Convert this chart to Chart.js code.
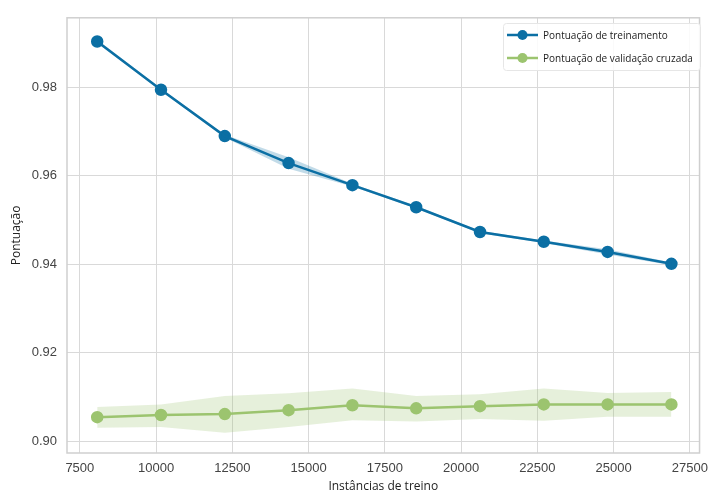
<!DOCTYPE html>
<html>
<head>
<meta charset="utf-8">
<script src="https://cdn.jsdelivr.net/npm/chart.js@4"></script>
<style>
  html, body { margin: 0; padding: 0; background: #fff; }
  #wrap { width: 716px; height: 494px; }
</style>
</head>
<body>
<div id="wrap"><canvas id="chart1"></canvas></div>
<script>
// data
var trainSizes = [8069, 10161, 12253, 14345, 16437, 18529, 20621, 22713, 24805, 26897];
var trainScore = [0.9904, 0.9795, 0.9690, 0.9629, 0.9579, 0.9529, 0.9473, 0.9451, 0.9428, 0.9401];
var trainStd   = [0.0004, 0.0003, 0.0003, 0.0013, 0.0003, 0.0003, 0.0003, 0.0003, 0.0006, 0.0003];
var validUpper = [0.9077, 0.9083, 0.9102, 0.9108, 0.9119, 0.9102, 0.9106, 0.9119, 0.9109, 0.9111];
var validScore = [0.9054, 0.9059, 0.9061, 0.9070, 0.9081, 0.9074, 0.9079, 0.9083, 0.9083, 0.9083];
var validLower = [0.9030, 0.9032, 0.9019, 0.9032, 0.9047, 0.9044, 0.9050, 0.9046, 0.9055, 0.9055];
var xTicks = [7500, 10000, 12500, 15000, 17500, 20000, 22500, 25000, 27500];
var yTicks = [0.90, 0.92, 0.94, 0.96, 0.98];

var blue = '#0b6fa4';
var green = '#9cc46f';

function pts(ys) {
  return trainSizes.map(function (x, i) { return { x: x, y: ys[i] }; });
}

// border around plot + legend box
var frame = {
  id: 'frame',
  afterDatasetsDraw: function (chart) {
    var c = chart.ctx, a = chart.chartArea;
    c.save();
    c.strokeStyle = '#cfcfcf';
    c.lineWidth = 1.5;
    c.strokeRect(a.left, a.top, a.right - a.left, a.bottom - a.top);

    // legend
    var bx = 503, by = 23, bw = 197, bh = 47;
    c.fillStyle = 'rgba(255,255,255,0.85)';
    c.strokeStyle = '#e6e6e6';
    c.lineWidth = 1;
    c.beginPath();
    c.roundRect(bx + 0.5, by + 0.5, bw, bh, 3);
    c.fill();
    c.stroke();
    var items = chart.data.datasets.filter(function (d) { return d.showInLegend; });
    items.forEach(function (d, i) {
      var y = by + 12 + i * 23;
      c.strokeStyle = d.borderColor;
      c.lineWidth = 2.5;
      c.beginPath();
      c.moveTo(bx + 4, y);
      c.lineTo(bx + 35, y);
      c.stroke();
      c.fillStyle = d.borderColor;
      c.beginPath();
      c.arc(bx + 19.5, y, 5, 0, Math.PI * 2);
      c.fill();
      c.fillStyle = '#222';
      c.font = '10px "Open Sans"';
      c.textBaseline = 'middle';
      c.fillText(d.label, bx + 40, y + 1);
    });
    c.restore();
  }
};

var graph = document.getElementById('chart1');

var myChart = new Chart(graph, {
  type: 'line',
  data: {
    datasets: [{
      data: pts(trainScore.map(function (v, i) { return v + trainStd[i]; })),
      borderWidth: 0,
      pointRadius: 0,
      fill: false
    }, {
      data: pts(trainScore.map(function (v, i) { return v - trainStd[i]; })),
      borderWidth: 0,
      pointRadius: 0,
      backgroundColor: 'rgba(11,111,164,0.25)',
      fill: '-1'
    }, {
      data: pts(validUpper),
      borderWidth: 0,
      pointRadius: 0,
      fill: false
    }, {
      data: pts(validLower),
      borderWidth: 0,
      pointRadius: 0,
      backgroundColor: 'rgba(156,196,111,0.25)',
      fill: '-1'
    }, {
      label: 'Pontuação de treinamento',
      showInLegend: true,
      data: pts(trainScore),
      borderColor: blue,
      backgroundColor: blue,
      borderWidth: 2.5,
      pointRadius: 5,
      pointHoverRadius: 5,
      fill: false
    }, {
      label: 'Pontuação de validação cruzada',
      showInLegend: true,
      data: pts(validScore),
      borderColor: green,
      backgroundColor: green,
      borderWidth: 2.5,
      pointRadius: 5,
      pointHoverRadius: 5,
      fill: false
    }]
  },
  options: {
    responsive: true,
    maintainAspectRatio: false,
    animation: false,
    layout: { padding: { left: 0, right: 9, top: 16, bottom: 0 } },
    plugins: {
      legend: { display: false },
      tooltip: { enabled: false },
      filler: { propagate: false }
    },
    scales: {
      x: {
        type: 'linear',
        min: 7079,
        max: 27820,
        afterBuildTicks: function (s) { s.ticks = xTicks.map(function (v) { return { value: v }; }); },
        afterFit: function (s) { s.height = 41; },
        grid: { color: '#d9d9d9', lineWidth: 1, drawTicks: false },
        border: { display: false },
        ticks: {
          padding: 8,
          maxRotation: 0,
          color: '#444',
          font: { family: '"Liberation Sans", Arial', size: 13 },
          callback: function (v) { return String(v); }
        },
        title: {
          display: true,
          text: 'Instâncias de treino',
          color: '#222',
          font: { family: '"Open Sans"', size: 12 },
          padding: { top: 0, bottom: 0 }
        }
      },
      y: {
        min: 0.8973,
        max: 0.99577,
        afterBuildTicks: function (s) { s.ticks = yTicks.map(function (v) { return { value: v }; }); },
        afterFit: function (s) { s.width = 67; },
        grid: { color: '#d9d9d9', lineWidth: 1, drawTicks: false },
        border: { display: false },
        ticks: {
          padding: 10,
          color: '#444',
          font: { family: '"Liberation Sans", Arial', size: 13 },
          callback: function (v) { return v.toFixed(2); }
        },
        title: {
          display: true,
          text: 'Pontuação',
          color: '#222',
          font: { family: '"Open Sans"', size: 12 },
          padding: { top: 9, bottom: 0 }
        }
      }
    }
  },
  plugins: [frame]
});
</script>
</body>
</html>
